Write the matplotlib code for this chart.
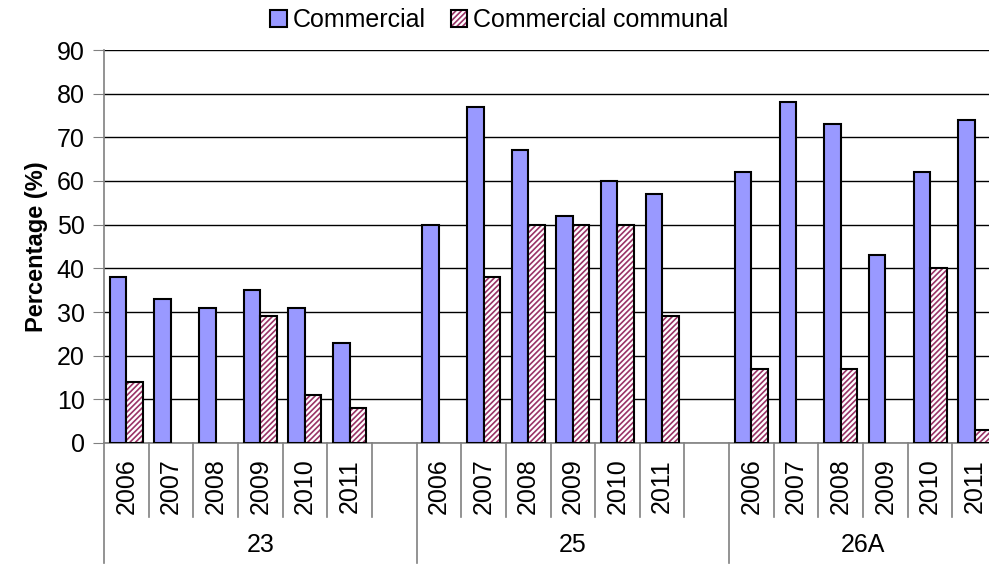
import numpy as np
import matplotlib
matplotlib.use("Agg")
from matplotlib import pyplot as plt
from matplotlib.patches import Patch
from matplotlib.legend_handler import HandlerTuple

plt.rcParams['font.family'] = ['Liberation Sans', 'DejaVu Sans']
plt.rcParams['hatch.linewidth'] = 1.2

groups = ["23", "25", "26A"]
years = ["2006", "2007", "2008", "2009", "2010", "2011"]
slots_per_group = [7, 7, 6]

commercial = [
    [38, 33, 31, 35, 31, 23],
    [50, 77, 67, 52, 60, 57],
    [62, 78, 73, 43, 62, 74],
]
communal = [
    [14, 0, 0, 29, 11, 8],
    [0, 38, 50, 50, 50, 29],
    [17, 0, 17, 0, 40, 3],
]

blue = "#9999FF"
maroon = "#993366"
gray = "#808080"
fs = 18

fig = plt.figure(figsize=(9.89, 5.65), dpi=100)
W, H = 989, 565
x0, x1, ytop, ybot = 104, 997, 50, 443
ax = fig.add_axes([x0 / W, (H - ybot) / H, (x1 - x0) / W, (ybot - ytop) / H])

starts = np.cumsum([0] + slots_per_group[:-1])
total = sum(slots_per_group)
bw = 0.37

for g, s in enumerate(starts):
    pos = s + np.arange(len(years))
    ax.bar(pos + 0.315, commercial[g], width=bw, color=blue,
           edgecolor="black", linewidth=1.5, zorder=3)
    vals = np.array(communal[g])
    keep = vals > 0
    ax.bar(pos[keep] + 0.685, vals[keep], width=bw, color="white",
           edgecolor=maroon, hatch="//////", linewidth=0, zorder=3)
    ax.bar(pos[keep] + 0.685, vals[keep], width=bw, fill=False,
           edgecolor="black", linewidth=1.5, zorder=4)

ax.set_xlim(0, total)
ax.set_ylim(0, 90)
ax.set_yticks(np.arange(0, 91, 10))
ax.yaxis.grid(True, color="black", linewidth=1.0, zorder=0)
ax.set_axisbelow(True)
ax.tick_params(axis="y", direction="out", length=8, color=gray,
               labelsize=fs, pad=6)
ax.set_xticks([])
for side in ["top", "right"]:
    ax.spines[side].set_visible(False)
ax.spines["left"].set_color(gray)
ax.spines["bottom"].set_color(gray)
ax.spines["left"].set_linewidth(1.2)
ax.spines["bottom"].set_linewidth(1.2)

ax.set_ylabel("Percentage (%)", fontsize=17, fontweight="bold", labelpad=6)

# category axis: year labels and separators
axh = ybot - ytop
short = -(517 - ybot) / axh
long_ = -(563 - ybot) / axh
trans = ax.get_xaxis_transform()
for g, s in enumerate(starts):
    n = slots_per_group[g]
    for i, yr in enumerate(years):
        ax.text(s + i + 0.5, -(486 - ybot) / axh, yr, rotation=90,
                ha="center", va="center", fontsize=fs, transform=trans)
    for k in range(1, n):
        ax.plot([s + k, s + k], [0, short], color=gray, lw=1.2,
                transform=trans, clip_on=False)
    ax.plot([s, s], [0, long_], color=gray, lw=1.2,
            transform=trans, clip_on=False)
    ax.text(s + n / 2, -(545 - ybot) / axh, groups[g], ha="center",
            va="center", fontsize=fs, transform=trans)
ax.plot([total, total], [0, long_], color=gray, lw=1.2,
        transform=trans, clip_on=False)

h_blue = Patch(facecolor=blue, edgecolor="black", linewidth=1.5)
h_hatch = (Patch(facecolor="white", edgecolor=maroon, hatch="//////",
                 linewidth=0),
           Patch(fill=False, edgecolor="black", linewidth=1.5))
fig.legend([h_blue, h_hatch], ["Commercial", "Commercial communal"],
           handler_map={tuple: HandlerTuple(ndivide=1, pad=0)},
           loc="upper center", bbox_to_anchor=(0.505, 1.025), ncol=2,
           frameon=False, fontsize=fs, handlelength=0.65,
           handleheight=0.65, handletextpad=0.25, columnspacing=1.0)

fig.savefig("out.png", dpi=100)
